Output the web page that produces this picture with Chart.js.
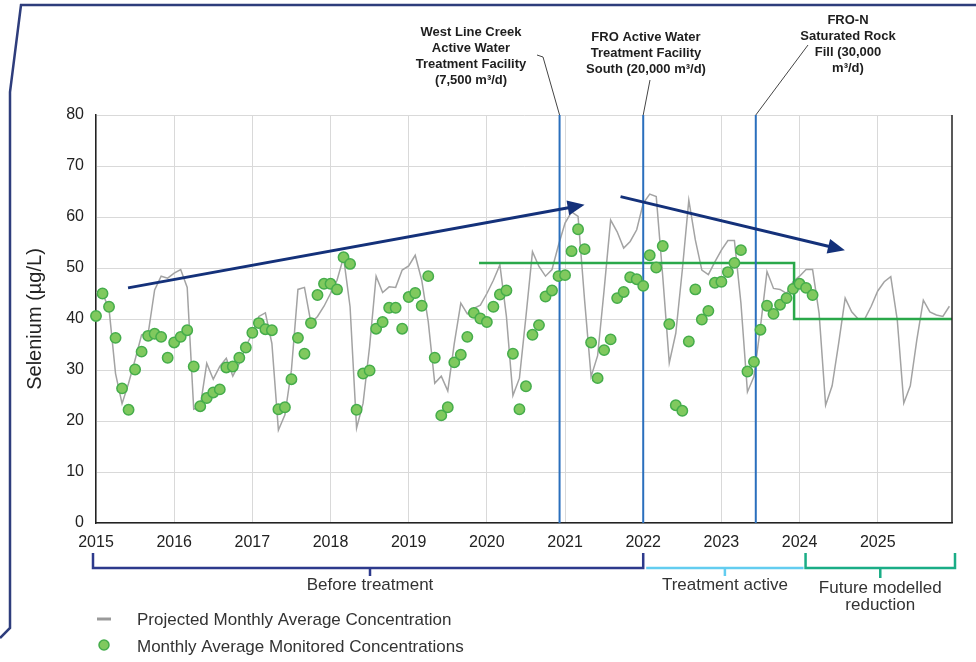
<!DOCTYPE html>
<html>
<head>
<meta charset="utf-8">
<script src="https://cdn.jsdelivr.net/npm/chart.js@4.4.0/dist/chart.umd.min.js"></script>
<style>
  html, body { margin: 0; padding: 0; background: #fff; }
  #wrap { position: relative; width: 976px; height: 662px; }
</style>
</head>
<body>
<div id="wrap"><canvas id="chart" width="976" height="662"></canvas></div>
<script>
// monthly series start in Jan 2015
const startYear = 2015;
const yearTicks = [2015, 2016, 2017, 2018, 2019, 2020, 2021, 2022, 2023, 2024, 2025];

// projected monthly average concentration, Jan 2015 - Dec 2025
const projected = [
  45.2, 45.0, 42.0, 29.3, 23.4, 27.4, 32.0, 36.9, 37.1, 45.7, 48.4, 48.0,
  49.0, 49.7, 46.2, 22.3, 22.8, 31.3, 28.2, 30.7, 32.3, 28.8, 31.3, 34.6,
  37.2, 40.5, 41.2, 35.2, 18.2, 21.2, 30.0, 45.8, 46.2, 39.2, 40.5, 42.5,
  45.0, 47.6, 52.1, 42.4, 18.6, 23.5, 34.6, 48.4, 45.2, 46.3, 46.2, 49.6,
  50.4, 52.5, 47.6, 39.5, 27.4, 28.8, 25.9, 35.2, 43.1, 41.0, 42.1, 42.7,
  45.0, 47.6, 50.6, 40.5, 25.0, 28.4, 40.5, 53.2, 50.3, 48.4, 49.7, 54.5,
  58.8, 61.0, 60.1, 43.7, 28.7, 32.8, 45.7, 59.4, 57.1, 53.9, 55.2, 57.5,
  62.7, 64.5, 64.0, 48.3, 31.4, 37.2, 49.6, 63.3, 55.5, 49.6, 48.7, 51.2,
  53.5, 55.4, 55.4, 43.1, 25.7, 28.7, 38.5, 49.3, 46.0, 45.8, 45.0, 47.3,
  48.4, 49.7, 49.7, 41.1, 23.1, 26.9, 35.2, 44.1, 41.4, 40.0, 40.0, 42.5,
  45.5, 47.3, 48.3, 39.8, 23.5, 26.9, 35.9, 43.7, 41.4, 40.8, 40.5, 42.5
];

// monitored monthly averages, Jan 2015 - Mar 2024
const monitored = [
  40.6, 45.0, 42.4, 36.3, 26.4, 22.2, 30.1, 33.6, 36.7, 37.1, 36.5, 32.4,
  35.4, 36.5, 37.8, 30.7, 22.9, 24.5, 25.6, 26.2, 30.5, 30.7, 32.4, 34.4,
  37.3, 39.2, 38.0, 37.8, 22.3, 22.7, 28.2, 36.3, 33.2, 39.2, 44.7, 46.9,
  46.9, 45.8, 52.1, 50.8, 22.2, 29.3, 29.9, 38.1, 39.4, 42.2, 42.2, 38.1,
  44.3, 45.1, 42.6, 48.4, 32.4, 21.1, 22.7, 31.5, 33.0, 36.5, 41.2, 40.1,
  39.4, 42.4, 44.8, 45.6, 33.2, 22.3, 26.8, 36.9, 38.8, 44.4, 45.6, 48.4,
  48.6, 53.3, 57.6, 53.7, 35.4, 28.4, 33.9, 36.0, 44.1, 45.3, 48.2, 47.8,
  46.5, 52.5, 50.1, 54.3, 39.0, 23.1, 22.0, 35.6, 45.8, 39.9, 41.6, 47.1,
  47.3, 49.2, 51.0, 53.5, 29.7, 31.6, 37.9, 42.6, 41.0, 42.8, 44.1, 45.9,
  46.9, 46.1, 44.7
];

// treatment facility start dates
const facilityYears = [2020.93, 2022.0, 2023.44];
const facilityLabels = [
  ['West Line Creek', 'Active Water', 'Treatment Facility', '(7,500 m\u00b3/d)'],
  ['FRO Active Water', 'Treatment Facility', 'South (20,000 m\u00b3/d)'],
  ['FRO-N', 'Saturated Rock', 'Fill (30,000', 'm\u00b3/d)']
];

// green target step line
const targetYears = [2019.9, 2023.93, 2023.93, 2025.95];
const targetLevels = [51, 51, 40, 40];

// trend arrows [year, value]
const trendFrom = [[2015.41, 46.1], [2021.71, 64.0]];
const trendTo = [[2021.25, 62.4], [2024.58, 53.5]];

// period brackets under the axis
const periodNames = [['Before treatment'], ['Treatment active'], ['Future modelled', 'reduction']];
const periodBounds = [[2015, 2022], [2022, 2024], [2024, 2025.95]];

const xMin = 2015, xMax = 2025.95;

const toPoints = (arr) => arr.map((v, i) => ({ x: startYear + i / 12, y: v }));

const datasets = [
  {
    label: 'Monthly Average Monitored Concentrations',
    data: toPoints(monitored),
    showLine: false,
    clip: false,
    pointRadius: 5.2,
    pointBackgroundColor: '#80c95e',
    pointBorderColor: '#45ad4b',
    pointBorderWidth: 1.5,
    order: 0
  },
  {
    label: 'Projected Monthly Average Concentration',
    data: toPoints(projected),
    borderColor: '#a3a3a3',
    borderWidth: 1.5,
    pointRadius: 0,
    tension: 0,
    order: 3
  },
  {
    label: 'target',
    data: targetYears.map((x, i) => ({ x: x, y: targetLevels[i] })),
    borderColor: '#2aa84a',
    borderWidth: 2.5,
    pointRadius: 0,
    order: 2
  }
];

facilityYears.forEach((yr) => {
  datasets.push({
    label: 'facility',
    data: [{ x: yr, y: 0 }, { x: yr, y: 80 }],
    borderColor: '#2a6fbd',
    borderWidth: 2,
    pointRadius: 0,
    order: 1
  });
});

const fontFamily = "'Liberation Sans', Arial, sans-serif";

const overlays = {
  id: 'overlays',
  afterDatasetsDraw(chart) {
    const ctx = chart.ctx;
    const xs = chart.scales.x, ys = chart.scales.y;
    const area = chart.chartArea;
    ctx.save();

    // right border of the plot
    ctx.strokeStyle = '#222';
    ctx.lineWidth = 1.5;
    ctx.beginPath();
    ctx.moveTo(area.right, area.top);
    ctx.lineTo(area.right, area.bottom);
    ctx.stroke();

    // trend arrows
    ctx.strokeStyle = '#14317a';
    ctx.fillStyle = '#14317a';
    ctx.lineWidth = 3;
    trendFrom.forEach((p, i) => {
      const x1 = xs.getPixelForValue(p[0]), y1 = ys.getPixelForValue(p[1]);
      const x2 = xs.getPixelForValue(trendTo[i][0]), y2 = ys.getPixelForValue(trendTo[i][1]);
      const ang = Math.atan2(y2 - y1, x2 - x1);
      const hl = 17, hw = 7.5;
      const bx = x2 - hl * Math.cos(ang), by = y2 - hl * Math.sin(ang);
      ctx.beginPath();
      ctx.moveTo(x1, y1);
      ctx.lineTo(bx + 2 * Math.cos(ang), by + 2 * Math.sin(ang));
      ctx.stroke();
      ctx.beginPath();
      ctx.moveTo(x2, y2);
      ctx.lineTo(bx + hw * Math.sin(ang), by - hw * Math.cos(ang));
      ctx.lineTo(bx - hw * Math.sin(ang), by + hw * Math.cos(ang));
      ctx.closePath();
      ctx.fill();
    });

    ctx.restore();
  },
  afterDraw(chart) {
    const ctx = chart.ctx;
    const xs = chart.scales.x;
    const area = chart.chartArea;
    ctx.save();

    // facility labels and leaders
    const labelCenters = [471, 646, 848];
    const labelTops = [32, 37, 20];
    const leaderStarts = [[[537, 55], [543, 57]], [[650, 80]], [[808, 45]]];
    ctx.font = 'bold 13px ' + fontFamily;
    ctx.fillStyle = '#1e1e1e';
    ctx.textAlign = 'center';
    ctx.textBaseline = 'middle';
    facilityLabels.forEach((lines, i) => {
      lines.forEach((t, j) => ctx.fillText(t, labelCenters[i], labelTops[i] + j * 16.3));
      ctx.strokeStyle = '#444';
      ctx.lineWidth = 1;
      ctx.beginPath();
      leaderStarts[i].forEach((pt, k) => (k === 0 ? ctx.moveTo(pt[0], pt[1]) : ctx.lineTo(pt[0], pt[1])));
      ctx.lineTo(xs.getPixelForValue(facilityYears[i]), area.top);
      ctx.stroke();
    });

    // period brackets
    const bracketColors = ['#2d3a8c', '#63cdf0', '#1aad86'];
    const by = 568;
    ctx.lineWidth = 2.5;
    ctx.font = '17px ' + fontFamily;
    ctx.fillStyle = '#333';
    periodBounds.forEach((b, i) => {
      let x1 = xs.getPixelForValue(b[0]);
      let x2 = xs.getPixelForValue(b[1]);
      if (i === 0) x1 -= 3;
      if (i === 1) { x1 += 3; x2 += 4; }
      if (i === 2) { x1 += 6; x2 += 3; }
      const cx = i === 0 ? 370 : (x1 + x2) / 2;
      ctx.strokeStyle = bracketColors[i];
      ctx.beginPath();
      if (i !== 1) {
        ctx.moveTo(x1, by - 15);
        ctx.lineTo(x1, by);
        ctx.lineTo(x2, by);
        ctx.lineTo(x2, by - 15);
      } else {
        ctx.moveTo(x1, by);
        ctx.lineTo(x2, by);
      }
      ctx.moveTo(cx, by);
      ctx.lineTo(cx, by + (i === 2 ? 10 : 8));
      ctx.stroke();
      periodNames[i].forEach((t, j) => ctx.fillText(t, cx, (i === 2 ? 588 : 585) + j * 17));
    });

    // legend
    ctx.textAlign = 'left';
    ctx.strokeStyle = '#9a9a9a';
    ctx.lineWidth = 3;
    ctx.beginPath();
    ctx.moveTo(97, 619);
    ctx.lineTo(111, 619);
    ctx.stroke();
    ctx.fillText('Projected Monthly Average Concentration', 137, 620);
    ctx.beginPath();
    ctx.arc(104, 645, 5, 0, Math.PI * 2);
    ctx.fillStyle = '#80c95e';
    ctx.fill();
    ctx.strokeStyle = '#45ad4b';
    ctx.lineWidth = 1.5;
    ctx.stroke();
    ctx.fillStyle = '#333';
    ctx.fillText('Monthly Average Monitored Concentrations', 137, 647);

    // slide frame
    ctx.strokeStyle = '#2e3d7c';
    ctx.lineWidth = 2.5;
    ctx.beginPath();
    ctx.moveTo(976, 5);
    ctx.lineTo(21, 5);
    ctx.lineTo(10, 92);
    ctx.lineTo(10, 628);
    ctx.lineTo(0, 638);
    ctx.stroke();

    ctx.restore();
  }
};

new Chart(document.getElementById('chart'), {
  type: 'line',
  data: { datasets: datasets },
  options: {
    responsive: false,
    animation: false,
    devicePixelRatio: 1,
    layout: { padding: { top: 115, right: 24, left: 0, bottom: 0 } },
    plugins: { legend: { display: false }, tooltip: { enabled: false } },
    scales: {
      x: {
        type: 'linear',
        min: xMin,
        max: xMax,
        afterBuildTicks: (scale) => { scale.ticks = yearTicks.map((v) => ({ value: v })); },
        afterFit: (scale) => { scale.height = 139; },
        ticks: {
          font: { family: fontFamily, size: 16 },
          color: '#222',
          padding: 10,
          maxRotation: 0,
          callback: (v) => String(v)
        },
        grid: { color: '#d9d9d9', lineWidth: 1, drawTicks: false },
        border: { color: '#222', width: 1.5 }
      },
      y: {
        min: 0,
        max: 80,
        afterFit: (scale) => { scale.width = 96; },
        ticks: {
          stepSize: 10,
          font: { family: fontFamily, size: 16 },
          color: '#222',
          padding: 12
        },
        grid: { color: '#d9d9d9', lineWidth: 1, drawTicks: false },
        border: { color: '#222', width: 1.5 },
        title: {
          display: true,
          text: 'Selenium (\u00b5g/L)',
          font: { family: fontFamily, size: 20 },
          color: '#222',
          padding: { top: 23, bottom: 0 }
        }
      }
    }
  },
  plugins: [overlays]
});
</script>
</body>
</html>
